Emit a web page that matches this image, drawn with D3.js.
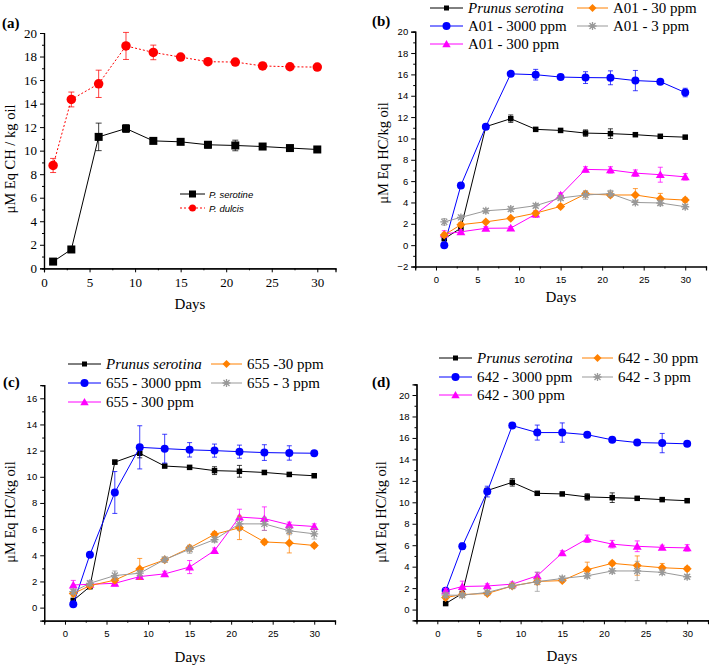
<!DOCTYPE html>
<html><head><meta charset="utf-8">
<script src="https://cdn.jsdelivr.net/npm/d3@7/dist/d3.min.js"></script>
<style>body{margin:0;background:#fff}svg{display:block}</style>
</head><body>
<script>
// ---------- DATA ----------
const days = [1,3,6,9,12,15,18,21,24,27,30];

// Panel (a)
const aSerotine    = [0.57,1.6,11.17,11.88,10.83,10.75,10.5,10.44,10.35,10.22,10.1];
const aSerotineErr = [0.1,0.1,1.17,0.33,0.15,0.15,0.28,0.45,0.12,0.1,0.1];
const aDulcis      = [8.74,14.35,15.68,18.9,18.35,17.95,17.56,17.53,17.2,17.13,17.1];
const aDulcisErr   = [0.6,0.63,1.16,1.15,0.62,0.12,0.15,0.12,0.2,0.15,0.1];

// Panel (b) A01
const bSerotina    = [0.6,1.6,11.1,11.85,10.85,10.75,10.5,10.45,10.35,10.2,10.12];
const bSerotinaErr = [0.1,0.1,0.2,0.35,0.1,0.1,0.3,0.45,0.1,0.1,0.1];
const bPpm3000     = [0.0,5.6,11.1,16.05,15.97,15.75,15.7,15.68,15.42,15.32,14.3];
const bPpm3000Err  = [0.1,0.25,0.2,0.15,0.5,0.15,0.55,0.65,0.95,0.2,0.4];
const bPpm300      = [1.05,1.25,1.58,1.6,2.9,4.7,7.1,7.05,6.75,6.6,6.4];
const bPpm300Err   = [0.3,0.2,0.15,0.15,0.3,0.2,0.25,0.3,0.3,0.7,0.3];
const bPpm30       = [0.95,1.92,2.18,2.52,3.0,3.63,4.8,4.7,4.7,4.35,4.22];
const bPpm30Err    = [0.2,0.2,0.15,0.15,0.2,0.2,0.25,0.2,0.6,0.5,0.2];
const bPpm3        = [2.18,2.6,3.22,3.38,3.7,4.42,4.7,4.83,4.0,3.95,3.6];
const bPpm3Err     = [0.3,0.2,0.2,0.2,0.2,0.2,0.4,0.3,0.2,0.25,0.2];

// Panel (c) 655
const cSerotina    = [0.55,1.6,11.12,11.8,10.82,10.72,10.47,10.42,10.33,10.18,10.08];
const cSerotinaErr = [0.1,0.1,0.15,0.35,0.1,0.1,0.3,0.45,0.1,0.1,0.1];
const cPpm3000     = [0.25,4.05,8.8,12.25,12.15,12.06,12.0,11.92,11.85,11.82,11.8];
const cPpm3000Err  = [0.1,0.1,1.6,1.65,1.1,0.55,0.5,0.5,0.6,0.55,0.15];
const cPpm300      = [1.73,1.78,1.86,2.37,2.58,3.1,4.36,6.92,6.8,6.33,6.2];
const cPpm300Err   = [0.35,0.2,0.2,0.2,0.2,0.5,0.2,0.6,0.9,0.2,0.2];
const cPpm30       = [1.07,1.68,2.1,2.96,3.65,4.56,5.6,6.1,5.02,4.93,4.75];
const cPpm30Err    = [0.2,0.15,0.2,0.8,0.15,0.2,0.2,0.9,0.2,0.75,0.15];
const cPpm3        = [1.22,1.86,2.45,2.63,3.67,4.46,5.2,6.4,6.4,5.87,5.64];
const cPpm3Err     = [0.2,0.2,0.35,0.2,0.2,0.3,0.2,0.5,0.5,0.3,0.4];

// Panel (d) 642
const dSerotina    = [0.56,1.5,11.1,11.86,10.84,10.78,10.5,10.43,10.37,10.25,10.15];
const dSerotinaErr = [0.1,0.1,0.2,0.35,0.1,0.1,0.3,0.45,0.1,0.1,0.1];
const dPpm3000     = [1.75,5.9,11.0,17.15,16.5,16.5,16.3,15.82,15.57,15.52,15.45];
const dPpm3000Err  = [0.2,0.3,0.5,0.2,0.7,0.9,0.2,0.2,0.2,0.9,0.2];
const dPpm300      = [1.75,2.15,2.2,2.37,3.15,5.28,6.6,6.1,5.9,5.8,5.75];
const dPpm300Err   = [0.2,0.5,0.2,0.2,0.3,0.2,0.35,0.35,0.5,0.2,0.3];
const dPpm30       = [1.12,1.4,1.5,2.2,2.62,2.7,3.72,4.31,4.1,3.9,3.8];
const dPpm30Err    = [0.2,0.2,0.15,0.15,0.3,0.15,0.7,0.2,0.9,0.4,0.2];
const dPpm3        = [1.34,1.34,1.6,2.2,2.6,2.9,3.15,3.6,3.6,3.47,3.06];
const dPpm3Err     = [0.2,0.2,0.2,0.15,0.9,0.2,0.2,0.2,0.9,0.2,0.2];

// Labels
const panelLabels = ["(a)","(b)","(c)","(d)"];
const yTitles = ["μM Eq CH / kg oil","μM Eq HC/kg oil","μM Eq HC/kg oil","μM Eq HC/kg oil"];
const xTitle = "Days";
const aNames = ["P. serotine","P. dulcis"];
const bNames = ["Prunus serotina","A01 - 3000 ppm","A01 - 300 ppm","A01 - 30 ppm","A01 - 3 ppm"];
const cNames = ["Prunus serotina","655 - 3000 ppm","655 - 300 ppm","655 -30 ppm","655 - 3 ppm"];
const dNames = ["Prunus serotina","642 - 3000 ppm","642 - 300 ppm","642 - 30 ppm","642 - 3 ppm"];
const xTickLabels = [0,5,10,15,20,25,30];

// ---------- STYLE ----------
const C = {black:"#000000", red:"#ff0000", blue:"#0000ff", magenta:"#ff00ff", orange:"#ff8000", gray:"#999999"};
const serif = "'Liberation Serif','Times New Roman',serif";
const sans = "'Liberation Sans',Arial,sans-serif";

const svg = d3.select("body").append("svg").attr("width",709).attr("height",665);

function marker(g, type, x, y, s, color){
  if(type==="square"){
    g.append("rect").attr("x",x-s/2).attr("y",y-s/2).attr("width",s).attr("height",s).attr("fill",color);
  } else if(type==="circle"){
    g.append("circle").attr("cx",x).attr("cy",y).attr("r",s/2).attr("fill",color);
  } else if(type==="diamond"){
    const h=s/2;
    g.append("path").attr("d",`M${x},${y-h}L${x+h},${y}L${x},${y+h}L${x-h},${y}Z`).attr("fill",color);
  } else if(type==="triangle"){
    const h=s/2;
    g.append("path").attr("d",`M${x},${y-h}L${x+h*1.05},${y+h*0.8}L${x-h*1.05},${y+h*0.8}Z`).attr("fill",color);
  } else if(type==="asterisk"){
    const h=s/2, d=h*0.75;
    g.append("path").attr("d",`M${x-h},${y}L${x+h},${y}M${x-d},${y-d}L${x+d},${y+d}M${x-d},${y+d}L${x+d},${y-d}M${x},${y-h}L${x},${y+h}`)
      .attr("stroke",color).attr("stroke-width",1.3).attr("fill","none");
  }
}

function panel(cfg){
  const g = svg.append("g");
  const x = d3.scaleLinear().domain(cfg.xd).range(cfg.xr);
  const y = d3.scaleLinear().domain(cfg.yd).range(cfg.yr);

  const yAxis = d3.axisLeft(y).tickValues(cfg.yMajor).tickSize(4).tickPadding(3).tickFormat(d3.format("d"));
  const yMinor = d3.axisLeft(y).tickValues(cfg.yMinor).tickSize(2).tickFormat("");
  const xAxis = d3.axisBottom(x).tickValues(xTickLabels).tickSize(4).tickPadding(cfg.xPad).tickFormat(d3.format("d"));
  const xMinor = d3.axisBottom(x).tickValues(cfg.xMinor).tickSize(2).tickFormat("");
  const xAxisY = cfg.yr[0];
  const yAxisX = cfg.xr[0];

  const gy = g.append("g").attr("transform",`translate(${yAxisX},0)`).call(yAxis);
  g.append("g").attr("transform",`translate(${yAxisX},0)`).call(yMinor);
  const gx = g.append("g").attr("transform",`translate(0,${xAxisY})`).call(xAxis);
  g.append("g").attr("transform",`translate(0,${xAxisY})`).call(xMinor);
  g.selectAll(".domain").attr("stroke","#000").attr("stroke-width",1.2);
  g.selectAll(".tick line").attr("stroke","#000").attr("stroke-width",1);
  [gy,gx].forEach(a=>a.selectAll("text").attr("font-family",cfg.tickFont).attr("font-size",cfg.tickSize).attr("fill","#000"));

  g.append("text").attr("x",cfg.xTitle[0]).attr("y",cfg.xTitle[1]).attr("text-anchor","middle")
    .attr("font-family",serif).attr("font-size",15).text(xTitle);
  g.append("text").attr("transform",`translate(${cfg.yTitle[0]},${cfg.yTitle[1]}) rotate(-90)`)
    .attr("text-anchor","middle").attr("dominant-baseline","central")
    .attr("font-family",serif).attr("font-size",14.5).text(cfg.yTitleText);
  g.append("text").attr("x",cfg.label[0]).attr("y",cfg.label[1]).attr("font-family",serif)
    .attr("font-weight","bold").attr("font-size",15).text(cfg.labelText);

  const line = d3.line().x((d,i)=>x(days[i])).y(d=>y(d));
  cfg.series.forEach(s=>{
    const sg = g.append("g");
    sg.append("path").datum(s.values).attr("d",line).attr("fill","none")
      .attr("stroke",s.color).attr("stroke-width",1).attr("stroke-dasharray",s.dash||null);
    s.values.forEach((v,i)=>{
      const e = s.err[i]; if(!e) return;
      const xx=x(days[i]), y1=y(v+e), y2=y(v-e), cw=s.cap;
      sg.append("path").attr("d",`M${xx},${y1}L${xx},${y2}M${xx-cw},${y1}L${xx+cw},${y1}M${xx-cw},${y2}L${xx+cw},${y2}`)
        .attr("stroke",s.color).attr("stroke-opacity",0.75).attr("stroke-width",1).attr("fill","none");
    });
    s.values.forEach((v,i)=>marker(sg,s.marker,x(days[i]),y(v),s.size,s.color));
  });

  cfg.legend.forEach((L,k)=>{
    const s = cfg.series[k];
    const lg = g.append("g");
    lg.append("line").attr("x1",L.x).attr("x2",L.x+L.w).attr("y1",L.y).attr("y2",L.y)
      .attr("stroke",s.color).attr("stroke-width",1).attr("stroke-dasharray",s.dash||null);
    marker(lg,s.marker,L.x+L.w/2,L.y,L.ms||s.size,s.color);
    lg.append("text").attr("x",L.x+L.w+L.gap).attr("y",L.y).attr("dominant-baseline","central")
      .attr("font-family",cfg.legFont).attr("font-size",cfg.legSize)
      .attr("font-style",(L.italic)?"italic":"normal").text(L.text);
  });
}

function fiveSeries(vals, errs){
  return [
    {values:vals[0], err:errs[0], color:C.black, marker:"square", size:5.5, cap:2.5},
    {values:vals[1], err:errs[1], color:C.blue, marker:"circle", size:8, cap:2.5},
    {values:vals[2], err:errs[2], color:C.magenta, marker:"triangle", size:8.5, cap:2.5},
    {values:vals[3], err:errs[3], color:C.orange, marker:"diamond", size:9, cap:2.5},
    {values:vals[4], err:errs[4], color:C.gray, marker:"asterisk", size:8, cap:2.5}
  ];
}
function fiveLegend(names, x1, x2, ys){
  return [
    {x:x1, y:ys[0], w:33, gap:5, text:names[0], italic:true, ms:5},
    {x:x1, y:ys[1], w:33, gap:5, text:names[1], ms:8},
    {x:x1, y:ys[2], w:33, gap:5, text:names[2], ms:8},
    {x:x2, y:ys[0], w:31, gap:5, text:names[3], ms:8},
    {x:x2, y:ys[1], w:31, gap:5, text:names[4], ms:8}
  ];
}
const stepRange = (a,b,s)=>d3.range(a,b+1e-9,s);

// (a)
panel({
  xd:[0,32], xr:[44,335.5], yd:[0,20], yr:[268.3,33],
  yMajor:stepRange(0,20,2), yMinor:stepRange(1,19,2), xMinor:stepRange(2.5,27.5,5),
  xPad:5, tickFont:serif, tickSize:13,
  xTitle:[190,309], yTitle:[10,159], yTitleText:yTitles[0], label:[2,28], labelText:panelLabels[0],
  series:[
    {values:aSerotine, err:aSerotineErr, color:C.black, marker:"square", size:8, cap:3},
    {values:aDulcis, err:aDulcisErr, color:C.red, marker:"circle", size:9.5, cap:3, dash:"2,2"}
  ],
  legFont:sans, legSize:9.5,
  legend:[
    {x:180, y:194, w:25, gap:4, text:aNames[0], italic:true, ms:7},
    {x:180, y:208, w:25, gap:4, text:aNames[1], italic:true, ms:7}
  ]
});

// (b)
panel({
  xd:[-2.5,32.5], xr:[415.2,706], yd:[-2,20], yr:[266.5,31.7],
  yMajor:stepRange(-2,20,2), yMinor:stepRange(-1,19,2), xMinor:stepRange(-2.5,32.5,5),
  xPad:6, tickFont:sans, tickSize:9.5,
  xTitle:[561,302], yTitle:[383,153], yTitleText:yTitles[1], label:[372,26], labelText:panelLabels[1],
  series:fiveSeries([bSerotina,bPpm3000,bPpm300,bPpm30,bPpm3],[bSerotinaErr,bPpm3000Err,bPpm300Err,bPpm30Err,bPpm3Err]),
  legFont:serif, legSize:15,
  legend:fiveLegend(bNames, 430, 577, [8,26,44])
});

// (c)
panel({
  xd:[-2.5,32.5], xr:[44.2,335], yd:[-1,17], yr:[620.7,385.2],
  yMajor:stepRange(0,16,2), yMinor:stepRange(-1,17,2), xMinor:stepRange(-2.5,32.5,5),
  xPad:6, tickFont:sans, tickSize:9.5,
  xTitle:[190,662], yTitle:[10,512], yTitleText:yTitles[2], label:[3,387], labelText:panelLabels[2],
  series:fiveSeries([cSerotina,cPpm3000,cPpm300,cPpm30,cPpm3],[cSerotinaErr,cPpm3000Err,cPpm300Err,cPpm30Err,cPpm3Err]),
  legFont:serif, legSize:15,
  legend:fiveLegend(cNames, 68, 211, [364,383,402])
});

// (d)
panel({
  xd:[-2.5,32.5], xr:[416.5,708], yd:[-1,21], yr:[620.3,384.3],
  yMajor:stepRange(0,20,2), yMinor:stepRange(-1,21,2), xMinor:stepRange(-2.5,32.5,5),
  xPad:6, tickFont:sans, tickSize:9.5,
  xTitle:[562,661], yTitle:[381,512], yTitleText:yTitles[3], label:[372,387], labelText:panelLabels[3],
  series:fiveSeries([dSerotina,dPpm3000,dPpm300,dPpm30,dPpm3],[dSerotinaErr,dPpm3000Err,dPpm300Err,dPpm30Err,dPpm3Err]),
  legFont:serif, legSize:15,
  legend:fiveLegend(dNames, 439, 582, [358,377,395])
});
</script>
</body></html>
